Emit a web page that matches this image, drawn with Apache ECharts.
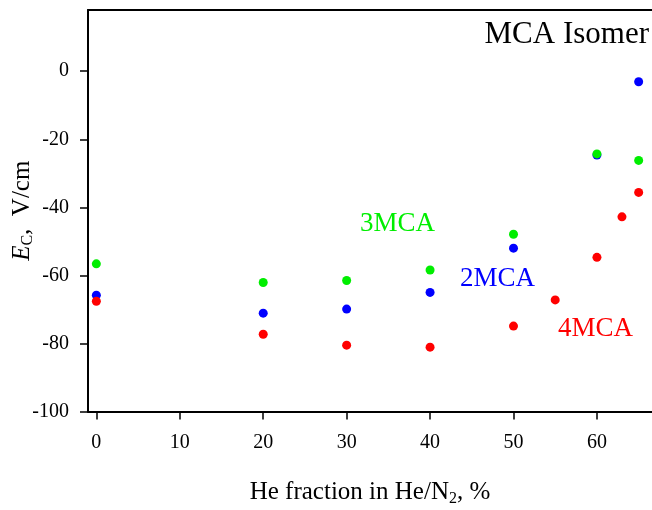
<!DOCTYPE html>
<html><head><meta charset="utf-8">
<script src="https://cdn.jsdelivr.net/npm/echarts@6/dist/echarts.min.js"></script>
<style>html,body{margin:0;padding:0;background:#fff}#c{width:652px;height:510px}</style>
</head><body><div id="c"></div>
<script>
const xTicks = [0, 10, 20, 30, 40, 50, 60];
const yTicks = [-100, -80, -60, -40, -20, 0];
const he2 = [0, 20, 30, 40, 50, 60, 65];
const mca2 = [-65.8, -71.1, -69.9, -65.0, -52.0, -24.6, -3.1];
const he3 = [0, 20, 30, 40, 50, 60, 65];
const mca3 = [-56.6, -62.1, -61.5, -58.4, -47.9, -24.3, -26.2];
const he4 = [0, 20, 30, 40, 50, 55, 60, 63, 65];
const mca4 = [-67.6, -77.3, -80.5, -81.1, -74.9, -67.2, -54.7, -42.8, -35.6];
const seriesNames = ['2MCA', '3MCA', '4MCA'];
const seriesColors = ['#0000ff', '#00ee00', '#ff0000'];
const panelTitle = 'MCA Isomer';

const F = 'Liberation Serif, Times New Roman, serif';
const pair = (xs, ys) => xs.map((x, i) => [x, ys[i]]);
const chart = echarts.init(document.getElementById('c'));
chart.setOption({
  animation: false,
  backgroundColor: '#fff',
  grid: { left: 88, right: 0, top: 10, bottom: 98.5, containLabel: false, outerBoundsMode: 'none' },
  xAxis: [{
    type: 'value', min: -1, max: 66.6, position: 'bottom',
    axisLine: { show: true, onZero: false, lineStyle: { color: '#000', width: 2 } },
    axisTick: { show: true, inside: false, length: 8, lineStyle: { color: '#000', width: 1.5 }, customValues: xTicks },
    axisLabel: { show: true, color: '#000', fontFamily: F, fontSize: 20, margin: 21, customValues: xTicks },
    splitLine: { show: false },
    name: '{n|He fraction in He/N}{sub|2}{n|, %}',
    nameLocation: 'middle', nameGap: 67, nameMoveOverlap: false,
    nameTextStyle: { rich: {
      n: { fontFamily: F, fontSize: 25, color: '#000' },
      sub: { fontFamily: F, fontSize: 16, color: '#000', padding: [12, 0, 0, 0] }
    } }
  }, {
    type: 'value', position: 'top', min: -1, max: 66.6,
    axisLine: { show: true, onZero: false, lineStyle: { color: '#000', width: 2 } },
    axisTick: { show: false }, axisLabel: { show: false }, splitLine: { show: false }
  }],
  yAxis: [{
    type: 'value', min: -100, max: 18, position: 'left',
    axisLine: { show: true, onZero: false, lineStyle: { color: '#000', width: 2 } },
    axisTick: { show: true, inside: false, length: 8, lineStyle: { color: '#000', width: 1.5 }, customValues: yTicks },
    axisLabel: { show: true, color: '#000', fontFamily: F, fontSize: 20, margin: 19, customValues: yTicks },
    splitLine: { show: false },
    name: '{i|E}{sub|C}{n|,  V/cm}',
    nameLocation: 'middle', nameGap: 52, nameRotate: 90, nameMoveOverlap: false,
    nameTextStyle: { rich: {
      i: { fontFamily: F, fontSize: 25, fontStyle: 'italic', color: '#000' },
      n: { fontFamily: F, fontSize: 25, color: '#000' },
      sub: { fontFamily: F, fontSize: 16, color: '#000', padding: [12, 0, 0, 0] }
    } }
  }],
  series: [
    { name: seriesNames[0], type: 'scatter', symbolSize: 9, itemStyle: { color: seriesColors[0], opacity: 1 }, data: pair(he2, mca2) },
    { name: seriesNames[1], type: 'scatter', symbolSize: 9, itemStyle: { color: seriesColors[1], opacity: 1 }, data: pair(he3, mca3) },
    { name: seriesNames[2], type: 'scatter', symbolSize: 9, itemStyle: { color: seriesColors[2], opacity: 1 }, data: pair(he4, mca4) }
  ],
  graphic: [
    { type: 'text', right: 3, top: 19, style: { text: panelTitle, font: '31px ' + F, fill: '#000' } },
    { type: 'text', left: 360, top: 210, style: { text: seriesNames[1], font: '27px ' + F, fill: seriesColors[1] } },
    { type: 'text', left: 460, top: 265, style: { text: seriesNames[0], font: '27px ' + F, fill: seriesColors[0] } },
    { type: 'text', left: 558, top: 315, style: { text: seriesNames[2], font: '27px ' + F, fill: seriesColors[2] } }
  ]
});
</script></body></html>
